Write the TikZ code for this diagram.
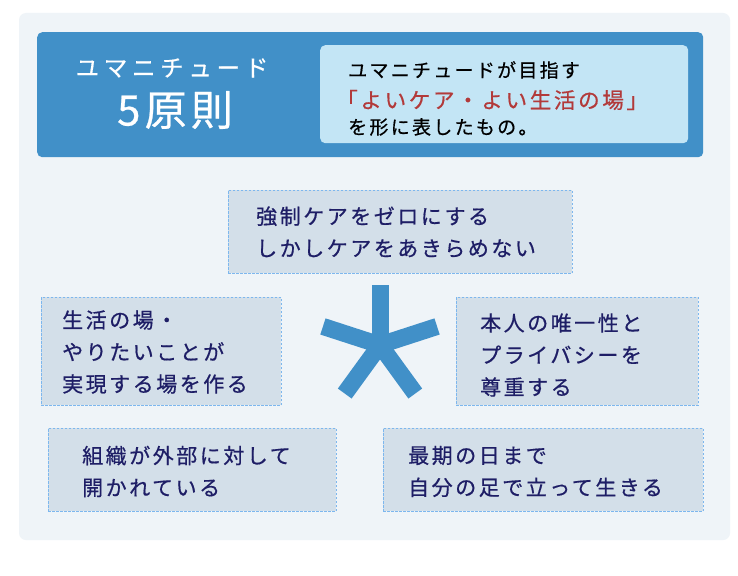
\documentclass[tikz,border=0pt]{standalone}
\usepackage{fontspec}
\newfontfamily\jpls{Noto Sans CJK JP}[LetterSpace=12,FakeBold=0.6]
\newfontfamily\jplw{Noto Sans CJK JP}[LetterSpace=20,FakeBold=0.6]
\newfontfamily\jpbig{Noto Sans CJK JP}[LetterSpace=10,FakeBold=0.6]
\definecolor{panel}{HTML}{EFF4F8}
\definecolor{hblue}{HTML}{4190C8}
\definecolor{lblue}{HTML}{C3E5F5}
\definecolor{boxfill}{HTML}{D3DFE9}
\definecolor{boxline}{HTML}{7DB7EE}
\definecolor{navy}{HTML}{1E1E66}
\definecolor{red}{HTML}{B23A3A}
\tikzset{
  box/.style={draw=boxline, fill=boxfill, dash pattern=on 2.5pt off 1.5pt, line width=0.8pt, anchor=north west, inner sep=0pt},
  txt/.style={anchor=west, align=left, text=navy, inner sep=0pt, font=\jpls\fontsize{21}{32}\selectfont},
  arm/.style={draw=hblue, line width=17pt},
}
\begin{document}
\begin{tikzpicture}[x=1pt,y=-1pt]
\useasboundingbox (0,0) rectangle (738,575);
\fill[white] (0,0) rectangle (738,575);
\fill[panel, rounded corners=7pt] (19,13) rectangle (730,540);
% header
\node[fill=hblue, rounded corners=5pt, minimum width=666pt, minimum height=125pt, anchor=north west, inner sep=0pt] (head) at (37,32) {};
\node[fill=lblue, rounded corners=5pt, minimum width=368pt, minimum height=98pt, anchor=north west, inner sep=0pt] (note) at (320,45) {};
\node[text=white, inner sep=0pt, font=\jplw\fontsize{23.5}{26}\selectfont] (t1) at (172,68) {ユマニチュード};
\node[text=white, inner sep=0pt, font=\jpbig\fontsize{42}{46}\selectfont] (t2) at (175,110) {5原則};
\node[anchor=west, inner sep=0pt, font=\jpls\fontsize{19}{24}\selectfont] (n1) at (348,70) {ユマニチュードが目指す};
\node[anchor=west, inner sep=0pt, text=red, font=\jpls\fontsize{21.6}{24}\selectfont] (n2) at (336,100) {「よいケア・よい生活の場」};
\node[anchor=west, inner sep=0pt, font=\jpls\fontsize{19}{24}\selectfont] (n3) at (348,127) {を形に表したもの。};
% boxes
\node[box, minimum width=344pt, minimum height=83pt] (b1) at (228,190) {};
\node[txt] (l1) at (256,232) {強制ケアをゼロにする\\しかしケアをあきらめない};
\node[box, minimum width=240pt, minimum height=108pt] (b2) at (41,297) {};
\node[txt] (l2) at (62,352) {生活の場・\\やりたいことが\\実現する場を作る};
\node[box, minimum width=242pt, minimum height=108pt] (b3) at (456,297) {};
\node[txt] (l3) at (480,355) {本人の唯一性と\\プライバシーを\\尊重する};
\node[box, minimum width=288pt, minimum height=83pt] (b4) at (48,428) {};
\node[txt] (l4) at (82,471.5) {組織が外部に対して\\開かれている};
\node[box, minimum width=320pt, minimum height=83pt] (b5) at (383,428) {};
\node[txt] (l5) at (408,471.5) {最期の日まで\\自分の足で立って生きる};
% star
\coordinate (sc) at (380,345);
\foreach \a in {90,18,162,-54,234} {
  \draw[arm] (sc) -- ++(\a:-60);
}
\end{tikzpicture}
\end{document}
